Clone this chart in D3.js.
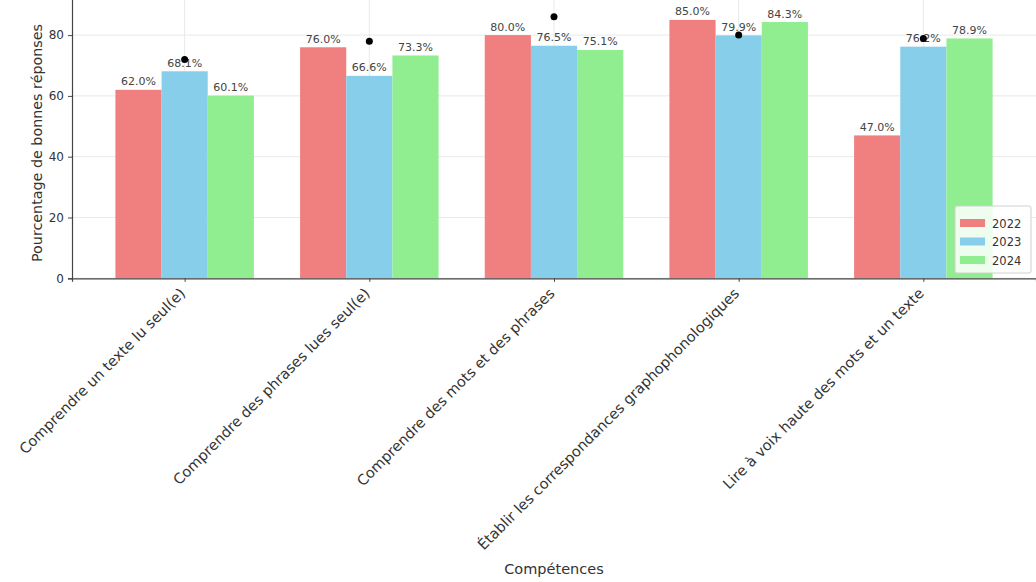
<!DOCTYPE html>
<html><head><meta charset="utf-8">
<script src="https://cdn.jsdelivr.net/npm/d3@7"></script>
<style>html,body{margin:0;padding:0;background:#fff;}svg{display:block;font-family:"DejaVu Sans",sans-serif;}</style>
</head><body>
<svg id="chart" width="1036" height="582"></svg>
<script>
const categories = ["Comprendre un texte lu seul(e)","Comprendre des phrases lues seul(e)","Comprendre des mots et des phrases","Établir les correspondances graphophonologiques","Lire à voix haute des mots et un texte"];
const years = ["2022","2023","2024"];
const values2022 = [62.0, 76.0, 80.0, 85.0, 47.0];
const values2023 = [68.1, 66.6, 76.5, 79.9, 76.2];
const values2024 = [60.1, 73.3, 75.1, 84.3, 78.9];
const referenceDots = [72.0, 78.0, 86.0, 80.0, 78.9];
const yTicks = [0, 20, 40, 60, 80];
const colors = ["#F08080", "#87CEEB", "#90EE90"];
const series = [values2022, values2023, values2024];

const svg = d3.select("#chart");
const left = 72, right = 1036, bottom = 278.3;
const x = d3.scaleLinear().domain([-0.61, categories.length - 1 + 0.61]).range([left, right]);
const y = d3.scaleLinear().domain([0, 92]).range([bottom, bottom - 92 * 3.04]);
const bw = 0.25;

// grid
const grid = svg.append("g");
grid.selectAll("line.h").data(yTicks).join("line")
  .attr("x1", left).attr("x2", right).attr("y1", d => y(d)).attr("y2", d => y(d))
  .attr("stroke", "#e9e9e9").attr("stroke-width", 1);
grid.selectAll("line.v").data(categories.map((c,i)=>i)).join("line")
  .attr("x1", d => x(d)).attr("x2", d => x(d)).attr("y1", y(92)).attr("y2", bottom)
  .attr("stroke", "#e9e9e9").attr("stroke-width", 1);

// bars
series.forEach((vals, s) => {
  svg.append("g").selectAll("rect").data(vals).join("rect")
    .attr("x", (d, i) => x(i + (s - 1) * bw - bw / 2))
    .attr("width", x(bw) - x(0))
    .attr("y", d => y(d))
    .attr("height", d => bottom - y(d))
    .attr("fill", colors[s]);
  svg.append("g").selectAll("text").data(vals).join("text")
    .attr("x", (d, i) => x(i + (s - 1) * bw))
    .attr("y", d => y(d) - 4.5)
    .attr("text-anchor", "middle")
    .attr("font-size", 11).attr("fill", "#444")
    .text(d => d.toFixed(1) + "%");
});

// dots
svg.append("g").selectAll("circle").data(referenceDots).join("circle")
  .attr("cx", (d, i) => x(i)).attr("cy", d => y(d)).attr("r", 3.5).attr("fill", "#000");

// axes
const yAxis = d3.axisLeft(y).tickValues(yTicks).tickSize(4).tickPadding(4);
const gy = svg.append("g").attr("transform", `translate(${left},0)`).call(yAxis);
gy.select(".domain").attr("stroke", "#444").attr("stroke-width", 1.2);
gy.selectAll(".tick line").attr("stroke", "#444");
gy.selectAll(".tick text").attr("font-size", 12).attr("fill", "#333").attr("font-family", "DejaVu Sans");

const xAxis = d3.axisBottom(x).tickValues(categories.map((c,i)=>i)).tickSize(3.5).tickFormat(i => categories[i]);
const gx = svg.append("g").attr("transform", `translate(0,${bottom})`).call(xAxis);
gx.select(".domain").attr("stroke", "#444").attr("stroke-width", 1.2);
gx.selectAll(".tick line").attr("stroke", "#444");
gx.selectAll(".tick text")
  .attr("font-size", 14.5).attr("fill", "#333").attr("font-family", "DejaVu Sans")
  .attr("text-anchor", "end").attr("dy", null).attr("y", null)
  .attr("transform", "translate(1,16) rotate(-45)");

// axis labels
svg.append("text").attr("x", (left + right) / 2).attr("y", 574)
  .attr("text-anchor", "middle").attr("font-size", 14.5).attr("fill", "#333").text("Compétences");
svg.append("text").attr("transform", `translate(42,143) rotate(-90)`)
  .attr("text-anchor", "middle").attr("font-size", 14.3).attr("fill", "#333").text("Pourcentage de bonnes réponses");

// legend
const lg = svg.append("g").attr("transform", "translate(955,206)");
lg.append("rect").attr("width", 76).attr("height", 67).attr("rx", 2)
  .attr("fill", "#fff").attr("fill-opacity", 0.85).attr("stroke", "#d0d0d0");
years.forEach((yr, i) => {
  lg.append("rect").attr("x", 5).attr("y", 13 + i * 18.5).attr("width", 25).attr("height", 8).attr("fill", colors[i]);
  lg.append("text").attr("x", 37).attr("y", 21.5 + i * 18.5).attr("font-size", 11.5).attr("fill", "#333").text(yr);
});
</script>
</body></html>
